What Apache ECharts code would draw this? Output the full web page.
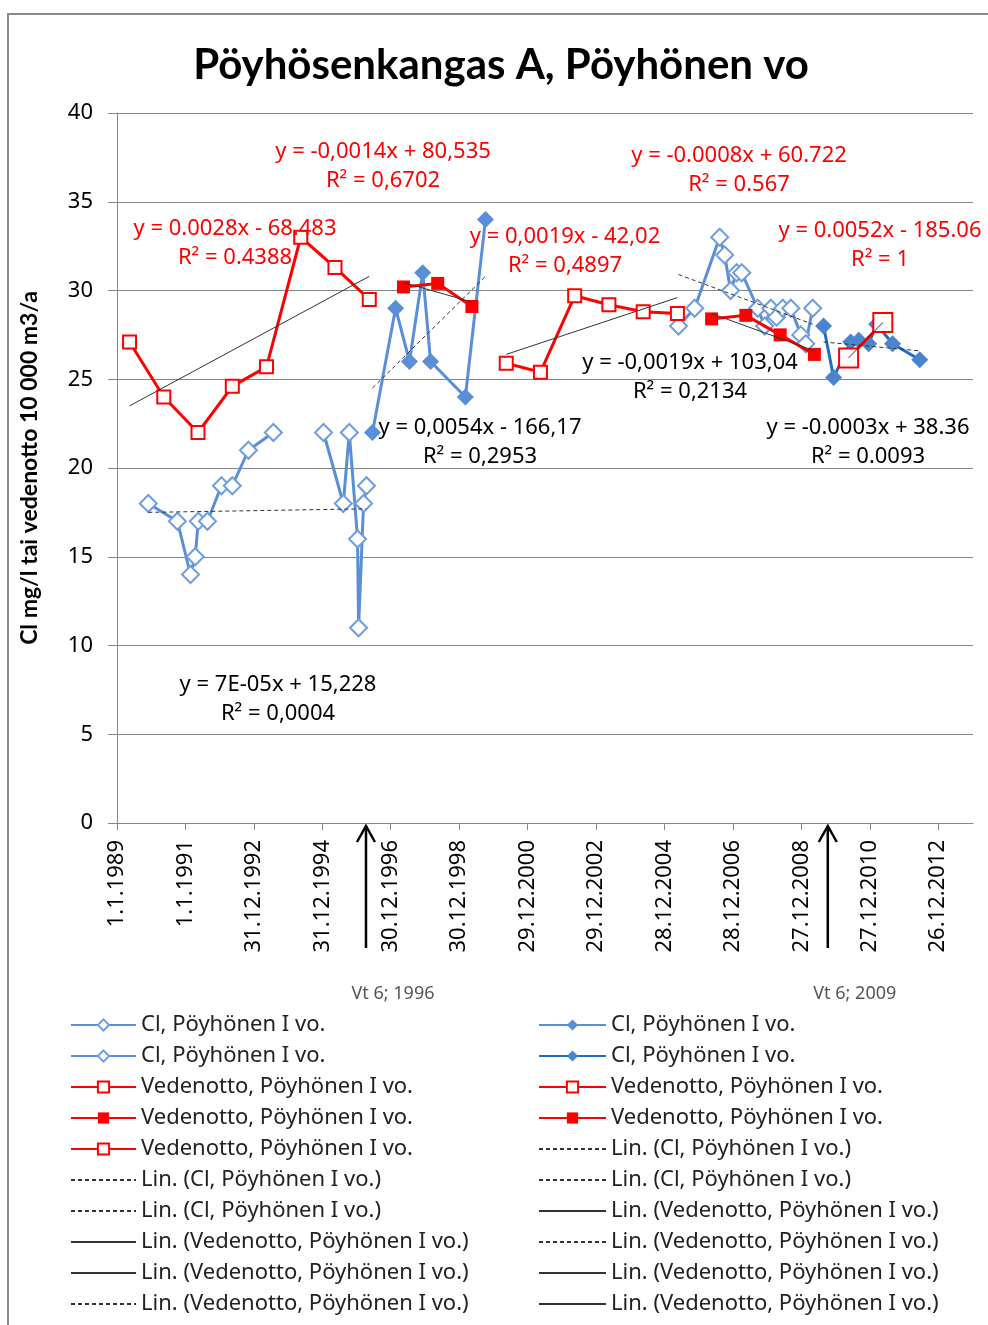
<!DOCTYPE html>
<html><head><meta charset="utf-8">
<script src="https://cdn.jsdelivr.net/npm/echarts@6/dist/echarts.min.js"></script>
<style>html,body{margin:0;padding:0;background:#fff}#c{width:988px;height:1325px}</style>
</head><body><div id="c"></div>
<script>
// ---------------- DATA ----------------
const chartTitle = 'Pöyhösenkangas A, Pöyhönen vo';
const yAxisTitle = 'Cl mg/l tai vedenotto 10 000 m3/a';
const xTickDates = ['1989-01-01','1991-01-01','1992-12-31','1994-12-31','1996-12-30','1998-12-30',
  '2000-12-29','2002-12-29','2004-12-28','2006-12-28','2008-12-27','2010-12-27','2012-12-26'];
const xMinDate = '1989-01-01';
const xMaxDate = '2014-01-01';
const yMin = 0, yMax = 40, yStep = 5;

// Cl, open diamonds 1989-1996 (null = gap)
const clA_dates = ['1989-12-01','1990-10-07','1991-02-24','1991-04-15','1991-05-18','1991-08-24','1992-01-20','1992-05-15','1992-11-03','1993-07-27',
  '1994-06-01','1995-01-13','1995-08-12','1995-10-15','1996-01-11','1996-01-22','1996-03-15','1996-04-15'];
const clA_vals  = [18,17,14,15,17,17,19,19,21,22, null, 22,18,22,16,11,18,19];
// Cl, open diamonds 2005-2009
const clF_dates = ['2005-05-27','2005-11-15','2006-08-09','2006-10-01','2006-12-03','2007-02-06','2007-04-01','2007-09-18','2007-12-01',
  '2008-02-06','2008-04-06','2008-06-12','2008-09-06','2008-12-21','2009-02-12','2009-04-27'];
const clF_vals  = [28,29,33,32,30,31,31,29,28,29,28.5,29,29,27.5,27,29];
// Cl, filled diamonds 1996-1999
const clC_dates = ['1996-06-18','1997-02-20','1997-07-18','1997-12-06','1998-02-28','1999-03-06','1999-10-07'];
const clC_vals  = [22,29,26,31,26,24,34];
// Cl, filled diamonds (dark) 2009-2012
const clE_dates = ['2009-08-21','2009-12-06','2010-06-06','2010-09-01','2010-12-15','2011-03-10','2011-08-27','2012-06-12'];
const clE_vals  = [28,25.1,27.1,27.2,27,28.1,27,26.1];
// Vedenotto (annual)
const vR1_dates = ['1989-05-15','1990-05-15','1991-05-15','1992-05-15','1993-05-15','1994-05-15','1995-05-15','1996-05-15'];
const vR1_vals  = [27.1,24.0,22.0,24.6,25.7,33.0,31.3,29.5];
const vR2_dates = ['1997-05-15','1998-05-15','1999-05-15'];
const vR2_vals  = [30.2,30.4,29.1];
const vR3_dates = ['2000-05-15','2001-05-15','2002-05-15','2003-05-15','2004-05-15','2005-05-15'];
const vR3_vals  = [25.9,25.4,29.7,29.2,28.8,28.7];
const vR4_dates = ['2006-05-15','2007-05-15','2008-05-15','2009-05-15'];
const vR4_vals  = [28.4,28.6,27.5,26.4];
const vR5_dates = ['2010-05-15','2011-05-15'];
const vR5_vals  = [26.2,28.2];

// Trendlines (endpoints)
const tA_dates = ['1989-12-01','1996-04-15'];  const tA_vals = [17.5,17.7];
const tF_dates = ['2005-05-27','2009-04-27'];  const tF_vals = [30.9,28.1];
const tC_dates = ['1996-06-18','1999-10-07'];  const tC_vals = [24.5,30.8];
const tE_dates = ['2009-08-21','2012-06-12'];  const tE_vals = [27.1,26.6];
const tR1_dates = ['1989-05-15','1996-05-15']; const tR1_vals = [23.5,30.8];
const tR2_dates = ['1997-05-15','1999-05-15']; const tR2_vals = [30.45,29.35];
const tR3_dates = ['2000-05-15','2005-05-15']; const tR3_vals = [26.4,29.6];
const tR4_dates = ['2006-05-15','2009-05-15']; const tR4_vals = [28.7,26.6];
const tR5_dates = ['2010-05-15','2011-05-15']; const tR5_vals = [26.2,28.2];

// Trendline equation texts
const eqTexts = [
  ['y = -0,0014x + 80,535','R² = 0,6702'],
  ['y = -0.0008x + 60.722','R² = 0.567'],
  ['y = 0.0028x - 68.483','R² = 0.4388'],
  ['y = 0,0019x - 42,02','R² = 0,4897'],
  ['y = 0.0052x - 185.06','R² = 1'],
  ['y = -0,0019x + 103,04','R² = 0,2134'],
  ['y = 0,0054x - 166,17','R² = 0,2953'],
  ['y = -0.0003x + 38.36','R² = 0.0093'],
  ['y = 7E-05x + 15,228','R² = 0,0004']
];
// Event markers
const eventDates = ['1996-04-10','2009-10-05'];
const eventLabels = ['Vt 6; 1996','Vt 6; 2009'];

// ---------------- HELPERS ----------------
function serial(s){const [y,m,d]=s.split('-').map(Number);return (Date.UTC(y,m-1,d)-Date.UTC(1899,11,30))/864e5;}
function fmtDate(v){const d=new Date(Date.UTC(1899,11,30)+Math.round(v)*864e5);return d.getUTCDate()+'.'+(d.getUTCMonth()+1)+'.'+d.getUTCFullYear();}
function pts(dates, vals){return dates.map((d,i)=>[serial(d), vals[i]==null?'-':vals[i]]);}

const ZW = n => '\u200b'.repeat(n);
const CL = 'Cl, Pöyhönen I vo.';
const VE = 'Vedenotto, Pöyhönen I vo.';
const LCL = 'Lin. (Cl, Pöyhönen I vo.)';
const LVE = 'Lin. (Vedenotto, Pöyhönen I vo.)';

const BLUE = '#5A8ED6', BORDERBLUE = '#6E9EDE', DBLUE = '#1F6EC2', DMARK = '#4A84CE', RED = '#FF0000';
const FONT = '"Noto Sans", "DejaVu Sans", sans-serif';
const BFONT = 'Lato, "Noto Sans", sans-serif';

function openDiamond(name, data){return {name, type:'line', data, symbol:'diamond', symbolSize:17,
  itemStyle:{color:'#fff', borderColor:BORDERBLUE, borderWidth:2}, lineStyle:{color:BLUE, width:3}, z:3};}
function fillDiamond(name, data, lc, mc){return {name, type:'line', data, symbol:'diamond', symbolSize:17,
  itemStyle:{color:mc}, lineStyle:{color:lc, width:3}, z:3};}
function openSquare(name, data, size){return {name, type:'line', data, symbol:'rect', symbolSize:size||13,
  itemStyle:{color:'#fff', borderColor:RED, borderWidth:2}, lineStyle:{color:RED, width:3}, z:4};}
function fillSquare(name, data){return {name, type:'line', data, symbol:'rect', symbolSize:13,
  itemStyle:{color:RED}, lineStyle:{color:RED, width:3}, z:4};}
function trend(name, data, dashed){return {name, type:'line', data, symbol:'none',
  itemStyle:{color:'rgba(0,0,0,0)', borderWidth:0, opacity:0},
  lineStyle:{color:'#333', width:1, type: dashed ? [4,3] : 'solid'}, z:5};}

const series = [
  openDiamond(CL, pts(clA_dates, clA_vals)),
  openDiamond(CL+ZW(1), pts(clF_dates, clF_vals)),
  fillDiamond(CL+ZW(2), pts(clC_dates, clC_vals), BLUE, BLUE),
  fillDiamond(CL+ZW(3), pts(clE_dates, clE_vals), DBLUE, DMARK),
  openSquare(VE, pts(vR1_dates, vR1_vals)),
  fillSquare(VE+ZW(1), pts(vR2_dates, vR2_vals)),
  openSquare(VE+ZW(2), pts(vR3_dates, vR3_vals)),
  openSquare(VE+ZW(3), pts(vR5_dates, vR5_vals), 19),
  fillSquare(VE+ZW(4), pts(vR4_dates, vR4_vals)),
  trend(LCL, pts(tA_dates, tA_vals), true),
  trend(LCL+ZW(1), pts(tF_dates, tF_vals), true),
  trend(LCL+ZW(2), pts(tC_dates, tC_vals), true),
  trend(LCL+ZW(3), pts(tE_dates, tE_vals), true),
  trend(LVE, pts(tR1_dates, tR1_vals), false),
  trend(LVE+ZW(1), pts(tR2_dates, tR2_vals), false),
  trend(LVE+ZW(2), [], true),
  trend(LVE+ZW(3), pts(tR3_dates, tR3_vals), false),
  trend(LVE+ZW(4), [], true),
  trend(LVE+ZW(5), pts(tR4_dates, tR4_vals), false),
  trend(LVE+ZW(6), pts(tR5_dates, tR5_vals), false)
];
series.forEach(s=>{s.emphasis={disabled:true}; s.silent=true; s.connectNulls=false;});

const legendLeft = [CL, CL+ZW(1), VE, VE+ZW(1), VE+ZW(2), LCL, LCL+ZW(1), LVE, LVE+ZW(1), LVE+ZW(2)];
const legendRight = [CL+ZW(2), CL+ZW(3), VE+ZW(3), VE+ZW(4), LCL+ZW(2), LCL+ZW(3), LVE+ZW(3), LVE+ZW(4), LVE+ZW(5), LVE+ZW(6)];

const legendCommon = {orient:'vertical', top:1014, height:310, padding:0, itemGap:9, itemHeight:14,
  textStyle:{fontFamily:FONT, fontSize:22, color:'#222'}, selectedMode:false};

const ticks = xTickDates.map(serial);

const chart = echarts.init(document.getElementById('c'), null, {renderer:'canvas'});
chart.setOption({
  animation:false,
  backgroundColor:'#fff',
  grid:{left:117, top:113, right:15, bottom:502, containLabel:false},
  xAxis:{type:'value', min:serial(xMinDate), max:serial(xMaxDate),
    axisLine:{show:true, lineStyle:{color:'#868686', width:1}},
    axisTick:{show:true, length:7, customValues:ticks, lineStyle:{color:'#868686'}},
    axisLabel:{customValues:ticks, formatter:fmtDate, rotate:90, margin:17, color:'#000', fontFamily:FONT, fontSize:22},
    splitLine:{show:false}},
  yAxis:{type:'value', min:yMin, max:yMax, interval:yStep,
    axisLine:{show:true, lineStyle:{color:'#868686', width:1}},
    axisTick:{show:true, length:9, lineStyle:{color:'#868686'}},
    axisLabel:{margin:24, color:'#000', fontFamily:FONT, fontSize:22},
    splitLine:{show:true, lineStyle:{color:'#868686', width:1}}},
  legend:[Object.assign({left:70, itemWidth:65, data:legendLeft}, legendCommon),
          Object.assign({left:538, itemWidth:67, data:legendRight}, legendCommon)],
  series: series
});

// ---- free text & event arrows (arrow x from the x-axis scale) ----
const eqPos = [[383,152,RED],[739,156,RED],[235,229,RED],[565,237,RED],[880,231,RED],
               [690,363,'#000'],[480,428,'#000'],[868,428,'#000'],[278,685,'#000']];
const graphics = [
  {type:'rect', shape:{x:8, y:14, width:1100, height:1400}, style:{fill:'none', stroke:'#8a8a8a', lineWidth:2}, z:0, silent:true},
  {type:'text', x:501, y:65, style:{text:chartTitle, font:'bold 42px '+BFONT, fill:'#000', textAlign:'center', textVerticalAlign:'middle'}, z:10},
  {type:'text', x:30, y:468, rotation:Math.PI/2, style:{text:yAxisTitle, font:'bold 23px '+BFONT, fill:'#000', textAlign:'center', textVerticalAlign:'middle'}, z:10}
];
eqTexts.forEach((t,i)=>{
  const [x,y,c] = eqPos[i];
  graphics.push({type:'text', x:x, y:y, style:{text:t[0], fill:c, font:'22px '+FONT, textAlign:'center', textVerticalAlign:'middle'}, z:10});
  graphics.push({type:'text', x:x, y:y+29, style:{text:t[1], fill:c, font:'22px '+FONT, textAlign:'center', textVerticalAlign:'middle'}, z:10});
});
eventDates.forEach((d,i)=>{
  const x = chart.convertToPixel({xAxisIndex:0}, serial(d));
  graphics.push({type:'line', shape:{x1:x, y1:948, x2:x, y2:826}, style:{stroke:'#000', lineWidth:2.5}, z:10});
  graphics.push({type:'polyline', shape:{points:[[x-9,842],[x,826],[x+9,842]]}, style:{stroke:'#000', lineWidth:2.5, fill:'none'}, z:10});
  graphics.push({type:'text', x:x+27, y:994, style:{text:eventLabels[i], font:'18px '+FONT, fill:'#555', textAlign:'center', textVerticalAlign:'middle'}, z:10});
});
chart.setOption({graphic: graphics});
</script></body></html>
